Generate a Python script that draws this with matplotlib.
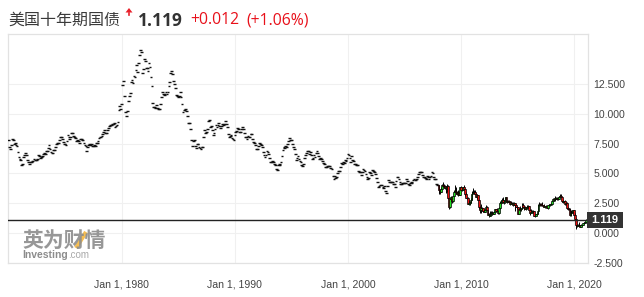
import matplotlib
matplotlib.use("Agg")
import matplotlib.pyplot as plt
import numpy as np
from matplotlib.patches import Rectangle, Polygon
from matplotlib.lines import Line2D

# ---------------- data ----------------
title_cn = "美国十年期国债"
last_price = 1.119
change_abs = "+0.012"
change_pct = "(+1.06%)"

x_tick_years = [1980, 1990, 2000, 2010, 2020]
x_tick_labels = ["Jan 1, 1980", "Jan 1, 1990", "Jan 1, 2000", "Jan 1, 2010", "Jan 1, 2020"]
y_ticks = [-2.5, 0.0, 2.5, 5.0, 7.5, 10.0, 12.5]

# monthly closes shown as flat dashes, 1970-01 .. 2007-12
closes_1970s = [
    7.79, 7.24, 7.07, 7.39, 7.91, 7.84, 7.46, 7.53, 7.39, 7.33, 6.84, 6.39,
    6.24, 6.11, 5.70, 5.83, 6.39, 6.52, 6.73, 6.58, 6.14, 5.93, 5.81, 5.93,
    5.95, 6.08, 6.07, 6.19, 6.13, 6.11, 6.11, 6.21, 6.55, 6.48, 6.28, 6.36,
    6.46, 6.64, 6.71, 6.67, 6.85, 6.90, 7.13, 7.40, 7.09, 6.79, 6.73, 6.74,
    6.99, 6.96, 7.21, 7.51, 7.58, 7.54, 7.81, 8.04, 8.04, 7.90, 7.68, 7.43,
    7.50, 7.39, 7.73, 8.23, 8.06, 7.86, 8.06, 8.40, 8.43, 8.14, 8.05, 8.00,
    7.74, 7.79, 7.73, 7.56, 7.90, 7.86, 7.83, 7.77, 7.59, 7.41, 7.29, 6.87,
    7.21, 7.39, 7.46, 7.37, 7.46, 7.28, 7.33, 7.40, 7.34, 7.52, 7.58, 7.69,
    8.01, 8.03, 8.04, 8.15, 8.35, 8.46, 8.64, 8.41, 8.42, 8.64, 8.81, 9.01,
    9.10, 9.10, 9.12, 9.18, 9.25, 8.91, 8.95, 9.03, 9.33, 10.30, 10.65, 10.39,
]
closes_1980s = [
    10.80, 12.41, 12.75, 11.47, 10.18, 9.78, 10.25, 11.10, 11.51, 11.75, 12.68, 12.84,
    12.57, 13.19, 13.12, 13.68, 14.10, 13.47, 14.28, 14.94, 15.32, 15.15, 13.39, 13.72,
    14.59, 14.43, 13.86, 13.87, 13.62, 14.30, 13.95, 13.06, 12.34, 10.91, 10.55, 10.54,
    10.46, 10.72, 10.51, 10.40, 10.38, 10.85, 11.38, 11.85, 11.65, 11.54, 11.69, 11.83,
    11.67, 11.84, 12.32, 12.63, 13.41, 13.56, 13.36, 12.72, 12.52, 12.16, 11.57, 11.50,
    11.38, 11.51, 11.86, 11.43, 10.85, 10.16, 10.31, 10.33, 10.37, 10.24, 9.78, 9.26,
    9.19, 8.70, 7.78, 7.30, 7.71, 7.80, 7.30, 7.17, 7.45, 7.43, 7.25, 7.11,
    7.08, 7.25, 7.25, 8.02, 8.61, 8.40, 8.45, 8.76, 9.42, 9.52, 8.86, 8.99,
    8.67, 8.21, 8.37, 8.72, 9.09, 8.92, 9.06, 9.26, 8.98, 8.80, 8.96, 9.11,
    9.09, 9.17, 9.36, 9.18, 8.86, 8.28, 8.02, 8.11, 8.19, 8.01, 7.87, 7.84,
]
closes_1990s = [
    8.21, 8.47, 8.59, 8.79, 8.76, 8.48, 8.47, 8.75, 8.89, 8.72, 8.39, 8.08,
    8.09, 7.85, 8.11, 8.04, 8.07, 8.28, 8.27, 7.90, 7.65, 7.53, 7.42, 7.09,
    7.03, 7.34, 7.54, 7.48, 7.39, 7.26, 6.84, 6.59, 6.42, 6.59, 6.87, 6.77,
    6.60, 6.26, 5.98, 5.97, 6.04, 5.96, 5.81, 5.68, 5.36, 5.33, 5.72, 5.77,
    5.75, 5.97, 6.48, 6.97, 7.18, 7.10, 7.30, 7.24, 7.46, 7.74, 7.96, 7.81,
    7.78, 7.47, 7.20, 7.06, 6.63, 6.17, 6.28, 6.49, 6.20, 6.04, 5.93, 5.71,
    5.65, 5.81, 6.27, 6.51, 6.74, 6.91, 6.87, 6.64, 6.83, 6.53, 6.20, 6.30,
    6.58, 6.42, 6.69, 6.89, 6.71, 6.49, 6.22, 6.30, 6.21, 6.03, 5.88, 5.81,
    5.54, 5.57, 5.65, 5.64, 5.65, 5.50, 5.46, 5.34, 4.81, 4.53, 4.83, 4.65,
    4.72, 5.00, 5.23, 5.18, 5.54, 5.90, 5.79, 5.94, 5.92, 6.11, 6.03, 6.28,
]
closes_2000s = [
    6.66, 6.52, 6.26, 5.99, 6.44, 6.10, 6.05, 5.83, 5.80, 5.74, 5.72, 5.24,
    5.16, 5.10, 4.89, 5.14, 5.39, 5.28, 5.24, 4.97, 4.73, 4.57, 4.65, 5.09,
    5.04, 4.91, 5.28, 5.21, 5.16, 4.93, 4.65, 4.26, 3.87, 3.94, 4.05, 4.03,
    4.05, 3.90, 3.81, 3.96, 3.57, 3.33, 3.98, 4.45, 4.27, 4.29, 4.30, 4.27,
    4.15, 4.08, 3.83, 4.35, 4.72, 4.73, 4.50, 4.28, 4.13, 4.10, 4.19, 4.23,
    4.22, 4.17, 4.50, 4.34, 4.14, 4.00, 4.18, 4.26, 4.20, 4.46, 4.54, 4.47,
    4.42, 4.57, 4.72, 4.99, 5.11, 5.11, 5.09, 4.88, 4.72, 4.73, 4.60, 4.56,
    4.76, 4.72, 4.56, 4.69, 4.75, 5.10, 5.00, 4.67, 4.52, 4.53, 4.15, 4.03,
]

# monthly OHLC candles 2008-01 .. 2021-01
candle_open_first = 4.03
candle_close = [
    3.59, 3.51, 3.41, 3.73, 4.06, 3.97, 3.95, 3.81, 3.83, 3.95, 2.92, 2.21,
    2.84, 3.02, 2.66, 3.12, 3.46, 3.53, 3.48, 3.40, 3.31, 3.38, 3.20, 3.84,
    3.59, 3.61, 3.83, 3.66, 3.29, 2.95, 2.91, 2.47, 2.51, 2.60, 2.79, 3.29,
    3.37, 3.42, 3.45, 3.29, 3.05, 3.16, 2.79, 2.22, 1.92, 2.11, 2.07, 1.88,
    1.80, 1.97, 2.21, 1.91, 1.56, 1.64, 1.47, 1.55, 1.63, 1.69, 1.61, 1.76,
    1.99, 1.88, 1.85, 1.67, 2.13, 2.49, 2.58, 2.78, 2.61, 2.55, 2.74, 3.03,
    2.64, 2.65, 2.72, 2.65, 2.47, 2.53, 2.56, 2.34, 2.49, 2.34, 2.17, 2.17,
    1.64, 1.99, 1.92, 2.03, 2.12, 2.35, 2.18, 2.22, 2.04, 2.14, 2.21, 2.27,
    1.92, 1.73, 1.77, 1.83, 1.85, 1.47, 1.46, 1.58, 1.60, 1.83, 2.38, 2.44,
    2.45, 2.39, 2.39, 2.28, 2.20, 2.30, 2.29, 2.12, 2.33, 2.38, 2.41, 2.41,
    2.72, 2.87, 2.74, 2.95, 2.86, 2.86, 2.96, 2.86, 3.06, 3.15, 3.01, 2.69,
    2.63, 2.72, 2.41, 2.51, 2.13, 2.01, 2.02, 1.50, 1.67, 1.69, 1.78, 1.92,
    1.51, 1.15, 0.67, 0.64, 0.65, 0.66, 0.53, 0.70, 0.68, 0.87, 0.84, 0.92,
    1.119,
]
candle_high = [
    4.04, 3.93, 3.72, 3.83, 4.08, 4.27, 4.14, 4.05, 3.94, 4.10, 4.00, 2.96,
    2.89, 3.08, 3.07, 3.13, 3.63, 4.00, 3.77, 3.88, 3.51, 3.59, 3.53, 3.88,
    3.92, 3.81, 3.90, 4.00, 3.69, 3.41, 3.07, 3.00, 2.80, 2.65, 2.97, 3.55,
    3.49, 3.76, 3.60, 3.58, 3.33, 3.20, 3.22, 2.80, 2.26, 2.42, 2.16, 2.10,
    2.04, 2.06, 2.40, 2.30, 1.98, 1.70, 1.62, 1.86, 1.88, 1.84, 1.77, 1.85,
    2.01, 2.06, 2.08, 1.88, 2.19, 2.66, 2.75, 2.93, 3.00, 2.78, 2.80, 3.04,
    3.04, 2.80, 2.82, 2.80, 2.67, 2.66, 2.61, 2.57, 2.65, 2.52, 2.42, 2.31,
    2.18, 2.15, 2.25, 2.10, 2.36, 2.49, 2.50, 2.29, 2.30, 2.17, 2.37, 2.32,
    2.30, 1.99, 2.00, 1.91, 1.91, 1.87, 1.59, 1.62, 1.71, 1.86, 2.42, 2.64,
    2.55, 2.52, 2.63, 2.40, 2.42, 2.30, 2.40, 2.30, 2.34, 2.47, 2.43, 2.50,
    2.73, 2.96, 2.91, 3.03, 3.13, 2.99, 3.00, 3.00, 3.09, 3.26, 3.24, 3.05,
    2.79, 2.73, 2.76, 2.61, 2.63, 2.17, 2.14, 2.08, 1.91, 1.86, 1.97, 1.95,
    1.94, 1.68, 1.28, 0.78, 0.77, 0.96, 0.68, 0.78, 0.72, 0.89, 0.97, 0.97,
    1.19,
]
candle_low = [
    3.28, 3.48, 3.31, 3.42, 3.68, 3.88, 3.82, 3.73, 3.33, 3.42, 2.90, 2.03,
    2.08, 2.71, 2.50, 2.63, 3.08, 3.45, 3.30, 3.38, 3.22, 3.15, 3.18, 3.19,
    3.59, 3.55, 3.61, 3.66, 3.12, 2.94, 2.87, 2.47, 2.38, 2.33, 2.53, 2.82,
    3.27, 3.37, 3.29, 3.28, 3.04, 2.86, 2.79, 2.03, 1.70, 1.72, 1.88, 1.80,
    1.80, 1.79, 1.96, 1.90, 1.53, 1.44, 1.39, 1.47, 1.55, 1.60, 1.58, 1.59,
    1.76, 1.84, 1.84, 1.63, 1.61, 2.06, 2.47, 2.55, 2.59, 2.48, 2.57, 2.74,
    2.64, 2.56, 2.59, 2.58, 2.40, 2.44, 2.43, 2.30, 2.34, 1.86, 2.17, 2.04,
    1.64, 1.65, 1.85, 1.85, 2.03, 2.10, 2.18, 1.91, 2.03, 1.90, 2.14, 2.15,
    1.92, 1.53, 1.72, 1.68, 1.70, 1.42, 1.32, 1.45, 1.52, 1.59, 1.77, 2.31,
    2.31, 2.31, 2.35, 2.16, 2.18, 2.10, 2.24, 2.09, 2.03, 2.31, 2.30, 2.33,
    2.40, 2.70, 2.73, 2.72, 2.76, 2.83, 2.82, 2.81, 2.85, 3.05, 2.99, 2.63,
    2.55, 2.62, 2.37, 2.38, 2.12, 1.97, 1.94, 1.45, 1.43, 1.51, 1.69, 1.75,
    1.51, 1.11, 0.32, 0.55, 0.60, 0.64, 0.52, 0.50, 0.62, 0.65, 0.74, 0.82,
    0.91,
]

# ---------------- figure ----------------
W, H = 644, 297
fig = plt.figure(figsize=(W / 100, H / 100), dpi=100)
fig.patch.set_facecolor("white")

def fx(px):
    return px / W

def fy(py):
    return 1 - py / H

ax_left, ax_right, ax_top, ax_bottom = 8, 588, 33.5, 263
ax = fig.add_axes([fx(ax_left), fy(ax_bottom), (ax_right - ax_left) / W, (ax_bottom - ax_top) / H])
ax.set_xlim(1969.95, 2021.21)
ax.set_ylim(-2.5, 16.73)

grid_c = "#f0f0f0"
for s in ax.spines.values():
    s.set_color("#e2e2e2")
    s.set_linewidth(0.9)
ax.set_yticks(y_ticks)
ax.set_xticks(x_tick_years)
ax.grid(True, color=grid_c, lw=0.8, zorder=0)
ax.set_axisbelow(True)
ax.yaxis.tick_right()
ax.set_yticklabels(["%.3f" % v for v in y_ticks])
ax.set_xticklabels(x_tick_labels)
ax.tick_params(axis="y", length=0, pad=4, labelsize=7.6, labelcolor="#444444")
ax.tick_params(axis="x", length=0, pad=12, labelsize=7.6, labelcolor="#444444")
for lab in ax.get_xticklabels() + ax.get_yticklabels():
    lab.set_fontfamily("Liberation Sans")

# early flat dashes
early = np.array(closes_1970s + closes_1980s + closes_1990s + closes_2000s)
t_early = 1970 + np.arange(len(early)) / 12.0
ax.hlines(early, t_early - 0.12, t_early + 0.12, color="#111111", lw=1.0, zorder=3)

# candles
cc = np.array(candle_close)
co = np.concatenate([[candle_open_first], cc[:-1]])
ch = np.array(candle_high)
cl = np.array(candle_low)
t_c = 2008 + np.arange(len(cc)) / 12.0
ax.vlines(t_c, cl, ch, color="black", lw=0.7, zorder=3)
cols = np.where(cc >= co, "#22e022", "#ee1111")
ax.bar(t_c, cc - co, bottom=co, width=0.16, color=cols, edgecolor="black", lw=0.5, zorder=4)

# current price line
ax.axhline(last_price, color="#222222", lw=1.0, zorder=5)

# price box on the right
yline_disp = ax.transData.transform((2000, last_price))[1]
y_px = H - yline_disp
fig.add_artist(Rectangle((fx(586.7), fy(y_px + 8)), 36 / W, 16 / H,
                         transform=fig.transFigure, facecolor="#333333", edgecolor="none"))
fig.text(fx(604.7), fy(y_px), "%.3f" % last_price, color="white", fontsize=8,
         fontweight="bold", ha="center", va="center", family="Liberation Sans")

# header
fig.text(fx(8), fy(20.5), title_cn, fontsize=11.5, color="#3a3a3a", ha="left", va="center",
         family=["Noto Sans CJK SC", "DejaVu Sans"])
fig.add_artist(Polygon([[fx(125.5), fy(12.5)], [fx(132.5), fy(12.5)], [fx(129), fy(8)]],
                       closed=True, transform=fig.transFigure, facecolor="#e8202a", edgecolor="none"))
fig.add_artist(Line2D([fx(129), fx(129)], [fy(12.5), fy(15)], transform=fig.transFigure,
                      color="#e8202a", lw=1.2))
fig.text(fx(137.5), fy(20.5), "%.3f" % last_price, fontsize=12.5, fontweight="bold",
         color="#333333", ha="left", va="center", family="Open Sans")
fig.text(fx(190.5), fy(20.5), change_abs, fontsize=11.3, color="#e8101a", ha="left", va="center",
         family="Open Sans", fontweight="medium")
fig.text(fx(246.5), fy(20.5), change_pct, fontsize=11.3, color="#e8101a", ha="left", va="center",
         family="Open Sans", fontweight="medium")

# watermark
fig.text(fx(22), fy(240), "英为财情", fontsize=15, fontweight="bold", color="#8c8c8c",
         ha="left", va="center", family=["Noto Sans CJK SC", "DejaVu Sans"], alpha=0.9)
fig.add_artist(Line2D([fx(76), fx(86)], [fy(248), fy(232)], transform=fig.transFigure,
                      color="#f5b335", lw=3, alpha=0.85, solid_capstyle="butt"))
t_inv = fig.text(fx(22), fy(255), "Investing", fontsize=7.5, fontweight="bold", color="#8c8c8c",
                 ha="left", va="center", family="Liberation Sans")
fig.canvas.draw()
bb = t_inv.get_window_extent(renderer=fig.canvas.get_renderer())
fig.text(bb.x1 / W + 0.5 / W, fy(255), ".com", fontsize=7, color="#a8a8a8",
         ha="left", va="center", family="Liberation Sans")

fig.savefig("out.png", dpi=100)
